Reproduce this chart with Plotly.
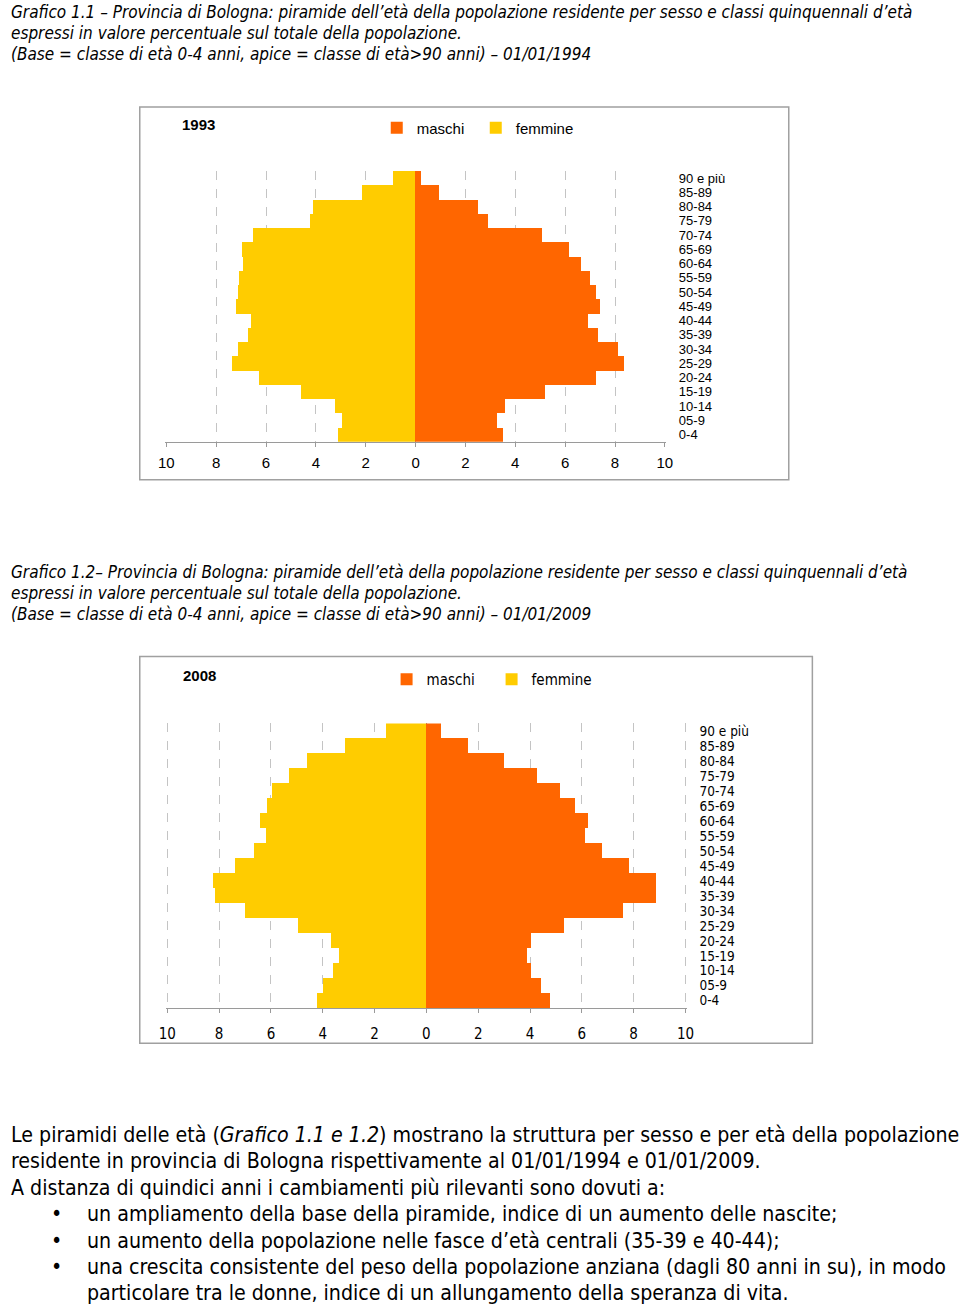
import plotly.graph_objects as go

W, H = 960, 1307

# ---------------- data ----------------
age_classes = ["0-4", "05-9", "10-14", "15-19", "20-24", "25-29", "30-34", "35-39",
               "40-44", "45-49", "50-54", "55-59", "60-64", "65-69", "70-74", "75-79",
               "80-84", "85-89", "90 e più"]

maschi_1993 = [3.51, 3.27, 3.61, 5.19, 7.25, 8.36, 8.15, 7.35, 6.95, 7.40,
               7.25, 7.02, 6.63, 6.16, 5.08, 2.93, 2.53, 0.94, 0.22]
femmine_1993 = [3.10, 2.95, 3.22, 4.57, 6.27, 7.34, 7.12, 6.73, 6.59, 7.18,
                7.13, 7.07, 6.90, 6.95, 6.49, 4.23, 4.11, 2.12, 0.89]

maschi_2008 = [4.78, 4.44, 4.05, 3.89, 4.05, 5.34, 7.60, 8.89, 8.89, 7.84,
               6.79, 6.13, 6.25, 5.74, 5.17, 4.27, 3.02, 1.62, 0.57]
femmine_2008 = [4.22, 3.99, 3.60, 3.38, 3.67, 4.93, 6.98, 8.16, 8.21, 7.36,
                6.64, 6.18, 6.42, 6.13, 5.96, 5.29, 4.61, 3.14, 1.55]

x_tick_vals = [-10, -8, -6, -4, -2, 0, 2, 4, 6, 8, 10]
x_tick_text = ["10", "8", "6", "4", "2", "0", "2", "4", "6", "8", "10"]

ORANGE = "#FF6600"
YELLOW = "#FFCC00"
GRID = "#c4c4c4"
AXIS = "#9a9a9a"
BOX = "#a0a0a0"

ARIAL = "Liberation Sans, Arial, sans-serif"
COND = "DejaVu Sans Condensed, sans-serif"

N = len(age_classes)
X_RANGE = [-10.04, 10.04]


def px(x):
    return x / W


def py(y):
    return 1 - y / H


fig = go.Figure()


def add_pyramid(maschi, femmine, xa, ya, legend):
    fig.add_trace(go.Bar(
        name="maschi", y=age_classes, x=maschi, orientation="h",
        marker=dict(color=ORANGE, line=dict(width=0)),
        xaxis=xa, yaxis=ya, legend=legend,
        hovertemplate="maschi %{y}: %{x:.2f}%<extra></extra>"))
    fig.add_trace(go.Bar(
        name="femmine", y=age_classes, x=[-v for v in femmine], orientation="h",
        customdata=femmine,
        marker=dict(color=YELLOW, line=dict(width=0)),
        xaxis=xa, yaxis=ya, legend=legend,
        hovertemplate="femmine %{y}: %{customdata:.2f}%<extra></extra>"))


add_pyramid(maschi_1993, femmine_1993, "x", "y", "legend")
add_pyramid(maschi_2008, femmine_2008, "x2", "y2", "legend2")


def xaxis_cfg(domain, anchor, font, standoff):
    return dict(domain=domain, anchor=anchor, range=X_RANGE,
                tickmode="array", tickvals=x_tick_vals, ticktext=x_tick_text,
                showgrid=True, gridcolor=GRID, griddash="dash", gridwidth=1,
                zeroline=True, zerolinecolor=AXIS, zerolinewidth=1,
                showline=True, linecolor=AXIS, linewidth=1,
                ticks="outside", ticklen=4, tickcolor=AXIS,
                tickfont=font, ticklabelstandoff=standoff, fixedrange=True)


def yaxis_cfg(domain, anchor, font, standoff):
    return dict(domain=domain, anchor=anchor, type="category",
                categoryorder="array", categoryarray=age_classes,
                tickmode="array", tickvals=age_classes, ticktext=age_classes,
                range=[-0.5, N - 0.5], side="right",
                showgrid=False, zeroline=False, showline=False, ticks="",
                tickfont=font, ticklabelstandoff=standoff, fixedrange=True)


def zero_axis_cfg(overlay, domain_x):
    # vertical axis line at x = 0 with ticks on category boundaries
    x0 = domain_x[0] + (domain_x[1] - domain_x[0]) * (0 - X_RANGE[0]) / (X_RANGE[1] - X_RANGE[0])
    return dict(overlaying=overlay, anchor="free", position=x0, side="left",
                range=[-0.5, N - 0.5], tickmode="array",
                tickvals=[i - 0.5 for i in range(N + 1)],
                showticklabels=False, ticks="outside", ticklen=4, tickcolor="#808080",
                showline=True, linecolor=AXIS, linewidth=1,
                showgrid=False, zeroline=False, fixedrange=True)


font1 = dict(family=ARIAL, size=15, color="black")
font2 = dict(family=COND, size=15, color="black")
cat_font1 = dict(family=ARIAL, size=13, color="black")
cat_font2 = dict(family=COND, size=13.5, color="black")

xdom1 = [px(160), px(669)]
xdom2 = [px(161), px(690)]

fig.update_layout(
    width=W, height=H, autosize=False,
    margin=dict(l=0, r=0, t=0, b=0),
    paper_bgcolor="white", plot_bgcolor="white",
    barmode="relative", bargap=0,
    showlegend=True,
    xaxis=xaxis_cfg(xdom1, "y", font1, 3),
    yaxis=yaxis_cfg([py(441), py(170)], "x", cat_font1, 12),
    xaxis2=xaxis_cfg(xdom2, "y2", font2, 8),
    yaxis2=yaxis_cfg([py(1008), py(723)], "x2", cat_font2, 12),
    yaxis3=zero_axis_cfg("y", xdom1),
    yaxis4=zero_axis_cfg("y2", xdom2),
    legend=dict(orientation="h", x=px(375), y=py(127), xanchor="left", yanchor="middle",
                font=font1, bgcolor="rgba(0,0,0,0)", entrywidth=54,
                traceorder="normal", itemclick=False, itemdoubleclick=False),
    legend2=dict(orientation="h", x=px(385), y=py(679), xanchor="left", yanchor="middle",
                 font=dict(family=COND, size=15, color="black"), bgcolor="rgba(0,0,0,0)",
                 entrywidth=60, traceorder="normal", itemclick=False, itemdoubleclick=False),
    hovermode="closest",
)

for (x0, y0, x1, y1) in [(134, 106, 794, 479), (134, 656, 818, 1043)]:
    fig.add_shape(type="rect", xref="paper", yref="paper",
                  x0=px(x0), x1=px(x1), y0=py(y1), y1=py(y0),
                  line=dict(color=BOX, width=1.5), fillcolor="rgba(0,0,0,0)", layer="below")

fig.add_annotation(text="<b>1993</b>", x=px(175), y=py(124), xref="paper", yref="paper",
                   xanchor="left", yanchor="middle", showarrow=False,
                   font=dict(family=ARIAL, size=15, color="black"))
fig.add_annotation(text="<b>2008</b>", x=px(176), y=py(675), xref="paper", yref="paper",
                   xanchor="left", yanchor="middle", showarrow=False,
                   font=dict(family=ARIAL, size=15, color="black"))

title1 = ["Grafico 1.1 – Provincia di Bologna: piramide dell’età della popolazione residente per sesso e classi quinquennali d’età",
          "espressi in valore percentuale sul totale della popolazione.",
          "(Base = classe di età 0-4 anni, apice = classe di età>90 anni) – 01/01/1994"]
title2 = ["Grafico 1.2– Provincia di Bologna: piramide dell’età della popolazione residente per sesso e classi quinquennali d’età",
          "espressi in valore percentuale sul totale della popolazione.",
          "(Base = classe di età 0-4 anni, apice = classe di età>90 anni) – 01/01/2009"]

TFONT = dict(family=COND, size=17, color="black")
for lines, ys in [(title1, [11, 32, 53]), (title2, [571, 592, 613])]:
    for t, yy in zip(lines, ys):
        fig.add_annotation(text="<i>" + t + "</i>", x=px(1), y=py(yy), xref="paper", yref="paper",
                           xanchor="left", yanchor="middle", showarrow=False, font=TFONT)

body = [
    (1, 1134, "Le piramidi delle età (<i>Grafico 1.1 e 1.2</i>) mostrano la struttura per sesso e per età della popolazione"),
    (1, 1160, "residente in provincia di Bologna rispettivamente al 01/01/1994 e 01/01/2009."),
    (1, 1187, "A distanza di quindici anni i cambiamenti più rilevanti sono dovuti a:"),
    (78, 1213, "un ampliamento della base della piramide, indice di un aumento delle nascite;"),
    (78, 1240, "un aumento della popolazione nelle fasce d’età centrali (35-39 e 40-44);"),
    (78, 1266, "una crescita consistente del peso della popolazione anziana (dagli 80 anni in su), in modo"),
    (78, 1292, "particolare tra le donne, indice di un allungamento della speranza di vita."),
]
BFONT = dict(family=COND, size=21.2, color="black")
for xx, yy, t in body:
    fig.add_annotation(text=t, x=px(xx), y=py(yy), xref="paper", yref="paper",
                       xanchor="left", yanchor="middle", showarrow=False, font=BFONT)
for yy in [1213, 1240, 1266]:
    fig.add_annotation(text="•", x=px(42), y=py(yy), xref="paper", yref="paper",
                       xanchor="left", yanchor="middle", showarrow=False, font=BFONT)

fig.write_html("out.html", config={"displayModeBar": False},
               post_script="document.body.style.margin='0';document.body.style.overflow='hidden';")
